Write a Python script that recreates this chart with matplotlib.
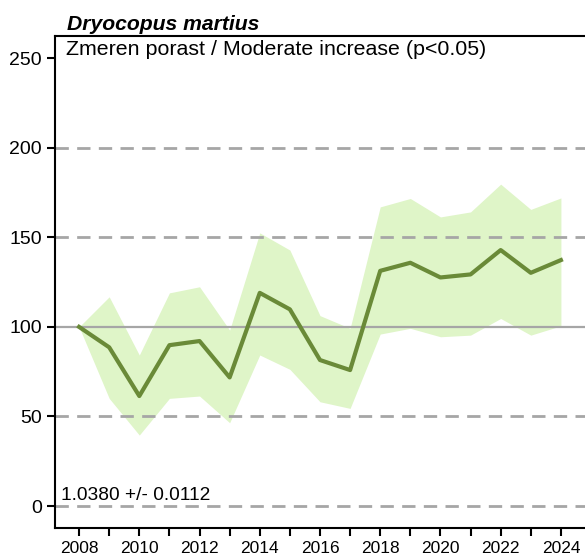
import matplotlib
matplotlib.use('Agg')
import matplotlib.pyplot as plt

plt.rcParams['font.family'] = ['Liberation Sans', 'DejaVu Sans']

years = list(range(2008, 2025))
index = [100, 88.6, 61.4, 89.8, 92.1, 71.8, 119.0, 109.8, 81.5, 75.9,
         131.3, 135.8, 127.6, 129.3, 142.9, 130.2, 137.3]
upper = [100, 116.8, 84.3, 119.0, 122.4, 98.2, 152.5, 142.9, 106.3, 99.2,
         167.0, 171.7, 161.4, 164.2, 179.7, 165.6, 172.0]
lower = [100, 60.1, 39.6, 60.1, 61.4, 46.5, 84.3, 76.3, 58.2, 54.5,
         96.0, 99.2, 94.5, 95.4, 104.7, 95.4, 100.6]
species = 'Dryocopus martius'
trend_label = 'Zmeren porast / Moderate increase (p<0.05)'
slope_label = '1.0380 +/- 0.0112'

fig = plt.figure(figsize=(5.85, 5.57), dpi=100)
ax = fig.add_axes([0.094, 0.052, 0.906, 0.883])

ax.fill_between(years, lower, upper, color='#dff5c8', lw=0, zorder=1)
for g in [0, 50, 150, 200]:
    ax.axhline(g, color='#a6a6a6', lw=2, ls=(0, (4.8, 3.0)), zorder=2)
ax.axhline(100, color='#a6a6a6', lw=1.6, zorder=2)
ax.plot(years, index, color='#6a8a38', lw=3, zorder=3)

ax.set_xlim(2007.2, 2024.8)
ax.set_ylim(-12.3, 262.3)
ax.set_yticks([0, 50, 100, 150, 200, 250])
ax.set_xticks(years)
ax.set_xticklabels([str(y) if y % 2 == 0 else '' for y in years])
ax.tick_params(axis='both', length=6, width=1.5, direction='out')
ax.tick_params(axis='x', labelsize=12.5)
ax.tick_params(axis='y', labelsize=14)
ax.spines['right'].set_visible(False)
for s in ['left', 'bottom', 'top']:
    ax.spines[s].set_linewidth(1.5)

fig.text(0.115, 0.947, species, fontsize=15.2, fontweight='bold', fontstyle='italic')
ax.text(0.02, 0.961, trend_label, transform=ax.transAxes, fontsize=15.4, va='baseline', ha='left')
ax.text(0.012, 0.057, slope_label, transform=ax.transAxes, fontsize=13.8, va='baseline', ha='left')

fig.savefig('out.png', dpi=100)
